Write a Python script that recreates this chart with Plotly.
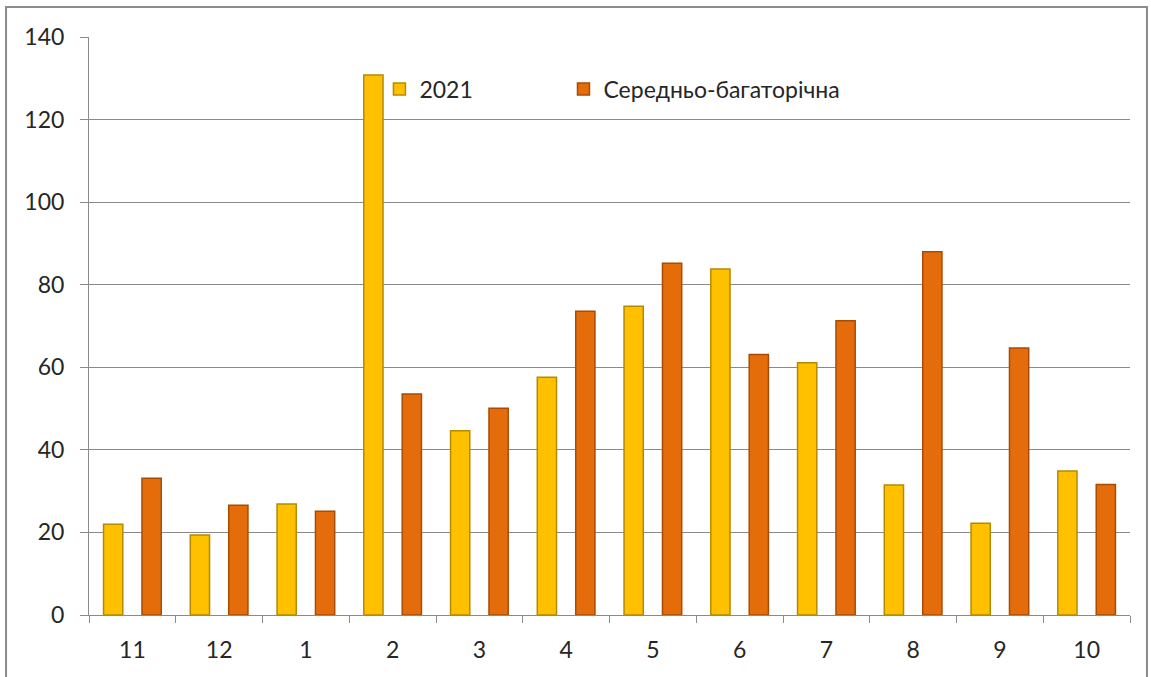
import plotly.graph_objects as go

months = ["11", "12", "1", "2", "3", "4", "5", "6", "7", "8", "9", "10"]
values_2021 = [22.0, 19.4, 26.9, 130.8, 44.6, 57.6, 74.8, 83.8, 61.1, 31.5, 22.2, 34.9]
values_avg = [33.1, 26.6, 25.1, 53.5, 50.1, 73.6, 85.2, 63.1, 71.3, 88.0, 64.7, 31.6]
y_ticks = [0, 20, 40, 60, 80, 100, 120, 140]

FONT = "Lato"
FS = 23
GRID = "#8a8a8a"
TXT = "#262626"

fig = go.Figure()
fig.add_trace(go.Bar(
    x=months, y=values_2021, name="2021", legend="legend",
    marker=dict(color="#FFC000", line=dict(color="#B58A00", width=1.5)),
))
fig.add_trace(go.Bar(
    x=months, y=values_avg, name="Середньо-багаторічна", legend="legend2",
    marker=dict(color="#E46C0A", line=dict(color="#A84C05", width=1.5)),
))

legend_common = dict(
    orientation="h", yanchor="middle", xanchor="left", y=0.91,
    bgcolor="rgba(0,0,0,0)", font=dict(family=FONT, size=FS, color=TXT),
    itemwidth=30,
)

fig.update_layout(
    width=1151, height=677,
    margin=dict(l=89, r=21, t=37, b=62),
    paper_bgcolor="white", plot_bgcolor="white",
    barmode="group", bargap=0.114, bargroupgap=0.5,
    font=dict(family=FONT, size=FS, color=TXT),
    showlegend=True,
    legend=dict(x=0.279, **legend_common),
    legend2=dict(x=0.4558, **legend_common),
    xaxis=dict(
        type="category", categoryorder="array", categoryarray=months,
        showline=True, linecolor=GRID, linewidth=1,
        ticks="outside", tickson="boundaries", ticklen=7, tickcolor=GRID,
        showgrid=False, tickfont=dict(family=FONT, size=FS, color=TXT),
        ticklabelstandoff=14,
    ),
    yaxis=dict(
        range=[0, 140], tickvals=y_ticks, ticktext=[str(v) for v in y_ticks],
        showline=True, linecolor=GRID, linewidth=1,
        ticks="outside", ticklen=8, tickcolor=GRID,
        showgrid=True, gridcolor=GRID, gridwidth=1,
        zeroline=False, tickfont=dict(family=FONT, size=FS, color=TXT),
        ticklabelstandoff=11,
    ),
    shapes=[dict(
        type="rect", xref="paper", yref="paper",
        x0=-0.0797, x1=1.0163, y0=-0.13, y1=1.0519,
        line=dict(color="#8c8c8c", width=2), fillcolor="rgba(0,0,0,0)", layer="below",
    )],
)

fig.write_html(
    "out.html",
    config={"displayModeBar": False},
    post_script="document.body.style.margin='0';document.body.style.overflow='hidden';",
)
